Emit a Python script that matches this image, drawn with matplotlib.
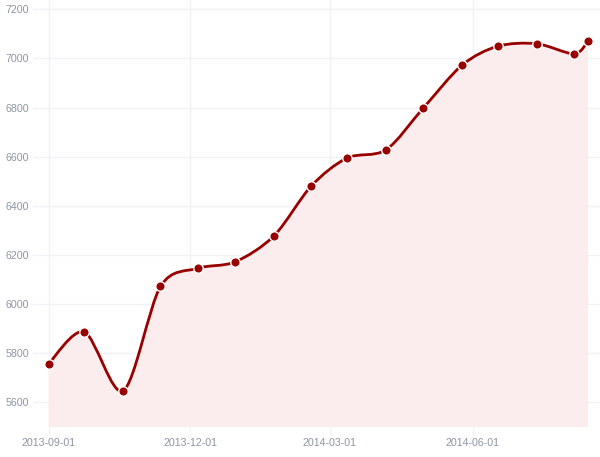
import numpy as np
import pandas as pd
import matplotlib
matplotlib.use('Agg')
import matplotlib.pyplot as plt
import matplotlib.dates as mdates
from matplotlib.path import Path
from matplotlib.patches import PathPatch

dates = ['2013-09-01', '2013-09-24', '2013-10-19', '2013-11-12', '2013-12-06',
         '2013-12-30', '2014-01-24', '2014-02-17', '2014-03-12', '2014-04-06',
         '2014-04-30', '2014-05-25', '2014-06-17', '2014-07-12', '2014-08-05',
         '2014-08-14']
values = [5757, 5887, 5647, 6072, 6146, 6172, 6278, 6481, 6595, 6628,
          6798, 6973, 7050, 7060, 7019, 7070]
tick_dates = ['2013-09-01', '2013-12-01', '2014-03-01', '2014-06-01']
y_ticks = [5600, 5800, 6000, 6200, 6400, 6600, 6800, 7000, 7200]

LINE = '#990000'
FILL = '#fbeded'
GRID = '#f1f2f5'
LABEL = '#8d95a3'

plt.rcParams['font.family'] = ['Liberation Sans', 'DejaVu Sans']


def cardinal_path(x, y, tension=0.7):
    # d3-style cardinal curve as cubic bezier segments
    a = (1 - tension) / 2
    n = len(x)
    tx = np.zeros(n)
    ty = np.zeros(n)
    for i in range(n):
        i0 = max(i - 1, 0)
        i2 = min(i + 1, n - 1)
        tx[i] = a * (x[i2] - x[i0])
        ty[i] = a * (y[i2] - y[i0])
    verts = [(x[0], y[0])]
    codes = [Path.MOVETO]
    for i in range(1, n):
        verts += [(x[i - 1] + tx[i - 1], y[i - 1] + ty[i - 1]),
                  (x[i] - tx[i], y[i] - ty[i]),
                  (x[i], y[i])]
        codes += [Path.CURVE4] * 3
    return verts, codes


x = mdates.date2num(pd.to_datetime(dates))
y = np.array(values, dtype=float)
base = 5500

fig = plt.figure(figsize=(6, 4.57), dpi=100)
ax = fig.add_axes([33 / 600, 30 / 457, 567 / 600, 427 / 457])

verts, codes = cardinal_path(x, y)
fill_verts = verts + [(x[-1], base), (x[0], base), (x[0], y[0])]
fill_codes = codes + [Path.LINETO, Path.LINETO, Path.CLOSEPOLY]
ax.add_patch(PathPatch(Path(fill_verts, fill_codes), facecolor=FILL,
                       edgecolor='none', zorder=1))
ax.add_patch(PathPatch(Path(verts, codes), facecolor='none', edgecolor=LINE,
                       lw=2.0, zorder=3, capstyle='round', joinstyle='round'))
ax.plot(x, y, 'o', color=LINE, markersize=6.8, markeredgecolor='white',
        markeredgewidth=1.0, zorder=4)

ax.set_xlim(x[0] - 10, x[0] + 354.7)
ax.set_ylim(base, 7238)
ax.set_xticks(mdates.date2num(pd.to_datetime(tick_dates)))
ax.set_xticklabels(tick_dates)
ax.set_yticks(y_ticks)
ax.grid(True, color=GRID, lw=1.0, zorder=0)
ax.set_axisbelow(True)
for s in ax.spines.values():
    s.set_visible(False)
ax.tick_params(axis='x', length=6, color=GRID, colors=LABEL, labelsize=7.7, pad=2)
ax.tick_params(axis='y', length=0, colors=LABEL, labelsize=7.7, pad=3)
for lbl in ax.get_xticklabels() + ax.get_yticklabels():
    lbl.set_color(LABEL)

fig.savefig('out.png', dpi=100)
